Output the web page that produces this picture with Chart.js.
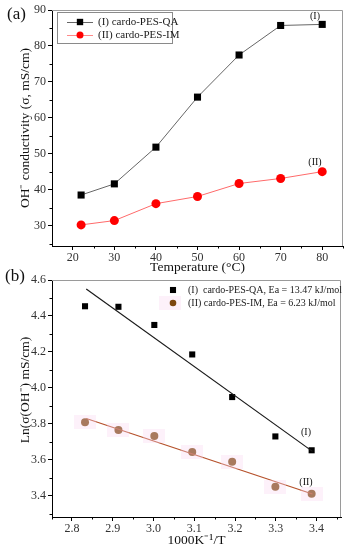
<!DOCTYPE html>
<html>
<head>
<meta charset="utf-8">
<script src="https://cdn.jsdelivr.net/npm/chart.js@4.4.0/dist/chart.umd.min.js"></script>
<style>
  body { margin: 0; background: #fff; }
  #wrap { position: relative; width: 349px; height: 550px; overflow: hidden; }
  canvas { position: absolute; left: 0; }
</style>
</head>
<body>
<div id="wrap">
  <canvas id="chartA" width="349" height="275" style="top:0"></canvas>
  <canvas id="chartB" width="349" height="285" style="top:265px"></canvas>
</div>
<script>
// (a) conductivity vs temperature
const temps = [22, 30, 40, 50, 60, 70, 80];
const condQA = [38.6, 41.7, 51.9, 65.8, 77.5, 85.7, 86.0];
const condIM = [30.3, 31.5, 36.2, 38.2, 41.8, 43.2, 45.1];
const ticksAx = [20, 30, 40, 50, 60, 70, 80];
const ticksAy = [30, 40, 50, 60, 70, 80, 90];

// (b) Arrhenius plot
const invT = [3.388, 3.299, 3.193, 3.095, 3.002, 2.914, 2.832];
const lnQA = [3.653, 3.730, 3.949, 4.186, 4.350, 4.451, 4.454];
const lnIM = [3.411, 3.450, 3.589, 3.643, 3.733, 3.766, 3.809];
const fitX = [2.835, 3.39];
const fitQA = [4.55, 3.647];
const fitIM = [3.83, 3.41];
const ticksBx = [2.8, 2.9, 3.0, 3.1, 3.2, 3.3, 3.4];
const ticksBy = [3.4, 3.6, 3.8, 4.0, 4.2, 4.4, 4.6];

const labelsA = ["(I) cardo-PES-QA", "(II) cardo-PES-IM"];
const labelsB = ["(I)  cardo-PES-QA, Ea = 13.47 kJ/mol", "(II) cardo-PES-IM, Ea = 6.23 kJ/mol"];

const SERIF = '"Liberation Serif", "Times New Roman", serif';
const pts = (xs, ys) => xs.map((x, i) => ({ x, y: ys[i] }));

// pale pink patch used behind the brown points
const patch = document.createElement("canvas");
patch.width = 22; patch.height = 14;
const pctx = patch.getContext("2d");
pctx.fillStyle = "rgba(250,215,240,0.35)";
pctx.fillRect(0, 0, 22, 14);

function fixedAxes(xHeight) {
  return {
    fitY: (s) => { s.width = 52; },
    fitX: (s) => { s.height = xHeight; }
  };
}

function drawMarker(ctx, style, x, y, r, color) {
  ctx.fillStyle = color;
  if (style === "rect") {
    const h = r * Math.SQRT1_2;
    ctx.fillRect(x - h, y - h, 2 * h, 2 * h);
  } else {
    ctx.beginPath();
    ctx.arc(x, y, r, 0, Math.PI * 2);
    ctx.fill();
  }
}

// frame, minor ticks, titles, legends and labels
const decor = {
  id: "decor",
  afterDraw(chart, args, opts) {
    const { ctx, chartArea: a, scales } = chart;
    ctx.save();
    ctx.strokeStyle = "#9a9a9a";
    ctx.lineWidth = 1;
    ctx.beginPath();
    ctx.moveTo(a.left, a.top + 0.5);
    ctx.lineTo(a.right - 0.5, a.top + 0.5);
    ctx.lineTo(a.right - 0.5, a.bottom);
    ctx.stroke();

    ctx.strokeStyle = "#000";
    ctx.beginPath();
    opts.minorX.forEach((v) => {
      const px = Math.round(scales.x.getPixelForValue(v)) + 0.5;
      ctx.moveTo(px, a.bottom);
      ctx.lineTo(px, a.bottom + 2.5);
    });
    opts.minorY.forEach((v) => {
      const py = Math.round(scales.y.getPixelForValue(v)) + 0.5;
      ctx.moveTo(a.left, py);
      ctx.lineTo(a.left - 2.5, py);
    });
    ctx.stroke();

    ctx.fillStyle = "#111";
    ctx.textAlign = "center";
    ctx.textBaseline = "middle";
    ctx.font = "13.5px " + SERIF;
    ctx.fillText(opts.xTitle, (a.left + a.right) / 2, opts.xTitleY);
    ctx.save();
    ctx.translate(opts.yTitleX, opts.yTitleY);
    ctx.rotate(-Math.PI / 2);
    ctx.fillText(opts.yTitle, 0, 0);
    ctx.restore();

    ctx.font = "17px " + SERIF;
    ctx.textAlign = "left";
    ctx.fillText(opts.panel[0], opts.panel[1], opts.panel[2]);

    ctx.font = "10px " + SERIF;
    ctx.textAlign = "center";
    opts.notes.forEach((n) => ctx.fillText(n[0], n[1], n[2]));

    const lg = opts.legend;
    if (lg.box) {
      ctx.strokeStyle = "#8a8a8a";
      ctx.strokeRect(lg.box[0] + 0.5, lg.box[1] + 0.5, lg.box[2], lg.box[3]);
    }
    ctx.font = lg.font + "px " + SERIF;
    ctx.textAlign = "left";
    lg.items.forEach((it, i) => {
      const y = lg.y0 + i * lg.dy;
      if (it.patch) ctx.drawImage(patch, lg.mx - 14, y - 7);
      if (it.line) {
        ctx.strokeStyle = it.line;
        ctx.beginPath();
        ctx.moveTo(lg.mx - 13, y + 0.5);
        ctx.lineTo(lg.mx + 13, y + 0.5);
        ctx.stroke();
      }
      drawMarker(ctx, it.style, lg.mx, y, it.r, it.color);
      ctx.fillStyle = "#1a1a1a";
      ctx.fillText(it.text, lg.tx, y + 0.5);
    });
    ctx.restore();
  }
};

function axisCommon(min, max, majors, fit) {
  return {
    type: "linear",
    min, max,
    afterBuildTicks: (s) => { s.ticks = majors.map((v) => ({ value: v })); },
    afterFit: fit,
    border: { color: "#000", width: 1 },
    grid: { drawOnChartArea: false, tickLength: 4, tickColor: "#000" },
    ticks: { color: "#333", padding: 1, font: { family: SERIF, size: 12 } }
  };
}

const fa = fixedAxes(29);
const xA = axisCommon(15, 85, ticksAx, fa.fitX);
const yA = axisCommon(24.44, 90, ticksAy, fa.fitY);
yA.ticks = { ...yA.ticks, padding: 2 };

new Chart(document.getElementById("chartA"), {
  type: "scatter",
  data: {
    datasets: [
      {
        label: labelsA[0], data: pts(temps, condQA), showLine: true,
        borderColor: "#666", borderWidth: 1, pointStyle: "rect",
        pointRadius: 5, pointBackgroundColor: "#000", pointBorderWidth: 0
      },
      {
        label: labelsA[1], data: pts(temps, condIM), showLine: true,
        borderColor: "#ff6a6a", borderWidth: 1, pointStyle: "circle",
        pointRadius: 4.5, pointBackgroundColor: "#ff0000", pointBorderWidth: 0
      }
    ]
  },
  options: {
    responsive: false, animation: false, devicePixelRatio: 1,
    layout: { padding: { top: 10, right: 6, left: 0, bottom: 0 } },
    scales: { x: xA, y: yA },
    plugins: {
      legend: { display: false }, tooltip: { enabled: false },
      decor: {
        minorX: [25, 35, 45, 55, 65, 75, 85],
        minorY: [25, 35, 45, 55, 65, 75, 85],
        xTitle: "Temperature (°C)", xTitleY: 267,
        yTitle: "OH⁻ conductivity (σ, mS/cm)", yTitleX: 25, yTitleY: 128,
        panel: ["(a)", 7, 15],
        notes: [["(I)", 315, 16], ["(II)", 315, 162]],
        legend: {
          box: [57, 12, 115, 31], y0: 22, dy: 13, mx: 80, tx: 98, font: 11,
          items: [
            { text: labelsA[0], style: "rect", r: 4.5, color: "#000", line: "#666" },
            { text: labelsA[1], style: "circle", r: 3.5, color: "#ff0000", line: "#ff8a8a" }
          ]
        }
      }
    }
  },
  plugins: [decor]
});

const fb = fixedAxes(33);
const xB = axisCommon(2.751, 3.46, ticksBx, fb.fitX);
xB.ticks = { ...xB.ticks, callback: (v) => v.toFixed(1) };
const yB = axisCommon(3.282, 4.6, ticksBy, fb.fitY);
yB.ticks = { ...yB.ticks, padding: 2, callback: (v) => v.toFixed(1) };

new Chart(document.getElementById("chartB"), {
  type: "scatter",
  data: {
    datasets: [
      {
        label: "patch", data: pts(invT, lnIM), pointStyle: patch, pointRadius: 7
      },
      {
        label: "fit I", data: pts(fitX, fitQA), showLine: true,
        borderColor: "#1a1a1a", borderWidth: 1.2, pointRadius: 0
      },
      {
        label: "fit II", data: pts(fitX, fitIM), showLine: true,
        borderColor: "#b5502a", borderWidth: 1.2, pointRadius: 0
      },
      {
        label: labelsB[0], data: pts(invT, lnQA), pointStyle: "rect",
        pointRadius: 4.3, pointBackgroundColor: "#000", pointBorderWidth: 0
      },
      {
        label: labelsB[1], data: pts(invT, lnIM), pointStyle: "circle",
        pointRadius: 4, pointBackgroundColor: "#7d4810", pointBorderWidth: 0
      }
    ]
  },
  options: {
    responsive: false, animation: false, devicePixelRatio: 1,
    layout: { padding: { top: 15, right: 7, left: 0, bottom: 0 } },
    scales: { x: xB, y: yB },
    plugins: {
      legend: { display: false }, tooltip: { enabled: false },
      decor: {
        minorX: [2.75, 2.85, 2.95, 3.05, 3.15, 3.25, 3.35, 3.45],
        minorY: [3.3, 3.5, 3.7, 3.9, 4.1, 4.3, 4.5],
        xTitle: "1000K⁻¹/T", xTitleY: 275,
        yTitle: "Ln(σ(OH⁻) mS/cm)", yTitleX: 25, yTitleY: 125,
        panel: ["(b)", 5, 12],
        notes: [["(I)", 306, 167], ["(II)", 306, 217]],
        legend: {
          box: null, y0: 25, dy: 13, mx: 173, tx: 188, font: 10,
          items: [
            { text: labelsB[0], style: "rect", r: 4.3, color: "#000" },
            { text: labelsB[1], style: "circle", r: 3.3, color: "#7d4810", patch: true }
          ]
        }
      }
    }
  },
  plugins: [decor]
});
</script>
</body>
</html>
